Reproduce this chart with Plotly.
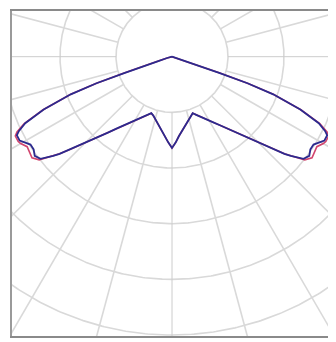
import numpy as np
import plotly.graph_objects as go

# gamma angles (deg from nadir) and intensities (cd) – half curve, symmetric
angles = [0, 2.5, 5, 7.5, 10, 12.5, 15, 17.5, 20, 22.5, 25, 27.5, 30, 32.5, 35, 37.5,
          40, 42.5, 45, 47.5, 49, 50, 51, 52, 54, 56, 58, 60, 61, 63, 64, 65.5, 67.5,
          69.5, 70.5, 71, 71.5, 72, 75, 80, 90]
c0_180 = [164, 154, 143, 135, 128, 121, 116, 111, 108, 113, 119, 125, 133, 141, 151, 163,
          178, 195, 218, 246, 266, 277, 288, 298, 303, 298, 298, 307, 311, 311, 304, 288, 248,
          193, 143, 89, 50, 27, 9, 4, 0]
c90_270 = [164, 154, 143, 135, 128, 121, 116, 111, 108, 113, 119, 125, 133, 141, 151, 163,
           178, 195, 218, 246, 266, 277, 289, 301, 309, 307, 305, 312, 314, 314, 308, 290, 249,
           193, 143, 89, 50, 27, 9, 4, 0]
ring_values = [100, 200, 300, 400, 500, 600, 700]
spoke_angles = list(range(0, 360, 15))


def full_curve(ang, val):
    a = np.array(ang, dtype=float)
    v = np.array(val, dtype=float)
    th = np.concatenate([-a[::-1], a[1:]])
    vv = np.concatenate([v[::-1], v[1:]])
    t = np.radians(th)
    return vv * np.sin(t), -vv * np.cos(t)


fig = go.Figure()
grid_col = "#d9d9d9"

# rings
t = np.radians(np.linspace(0, 360, 721))
for r in ring_values:
    fig.add_trace(go.Scatter(x=r * np.sin(t), y=-r * np.cos(t), mode="lines",
                             line=dict(color=grid_col, width=1.6), hoverinfo="skip",
                             showlegend=False))
# spokes
for a in spoke_angles:
    ar = np.radians(a)
    col = "#cccccc" if a % 90 == 0 else grid_col
    w = 1.0 if a % 90 == 0 else 1.6
    fig.add_trace(go.Scatter(x=[100 * np.sin(ar), 800 * np.sin(ar)],
                             y=[-100 * np.cos(ar), -800 * np.cos(ar)], mode="lines",
                             line=dict(color=col, width=w), hoverinfo="skip",
                             showlegend=False))

x2, y2 = full_curve(angles, c90_270)
fig.add_trace(go.Scatter(x=x2, y=y2, mode="lines", name="C90-C270",
                         line=dict(color="#d2456e", width=1.6), showlegend=False))
x1, y1 = full_curve(angles, c0_180)
fig.add_trace(go.Scatter(x=x1, y=y1, mode="lines", name="C0-C180",
                         line=dict(color="#2c2a8e", width=1.8), showlegend=False))

fig.update_layout(
    width=328, height=334,
    margin=dict(l=4, r=5, t=1, b=6),
    paper_bgcolor="white", plot_bgcolor="white",
    xaxis=dict(range=[-285.7, 283.9], showgrid=False, zeroline=False, showticklabels=False,
               ticks="", showline=True, linecolor="#8a8a8a", linewidth=1.5, mirror=True),
    yaxis=dict(range=[-501.8, 82.1], showgrid=False, zeroline=False, showticklabels=False,
               ticks="", showline=True, linecolor="#9a9a9a", linewidth=1.5, mirror=True),
)
fig.write_html("out.html")
